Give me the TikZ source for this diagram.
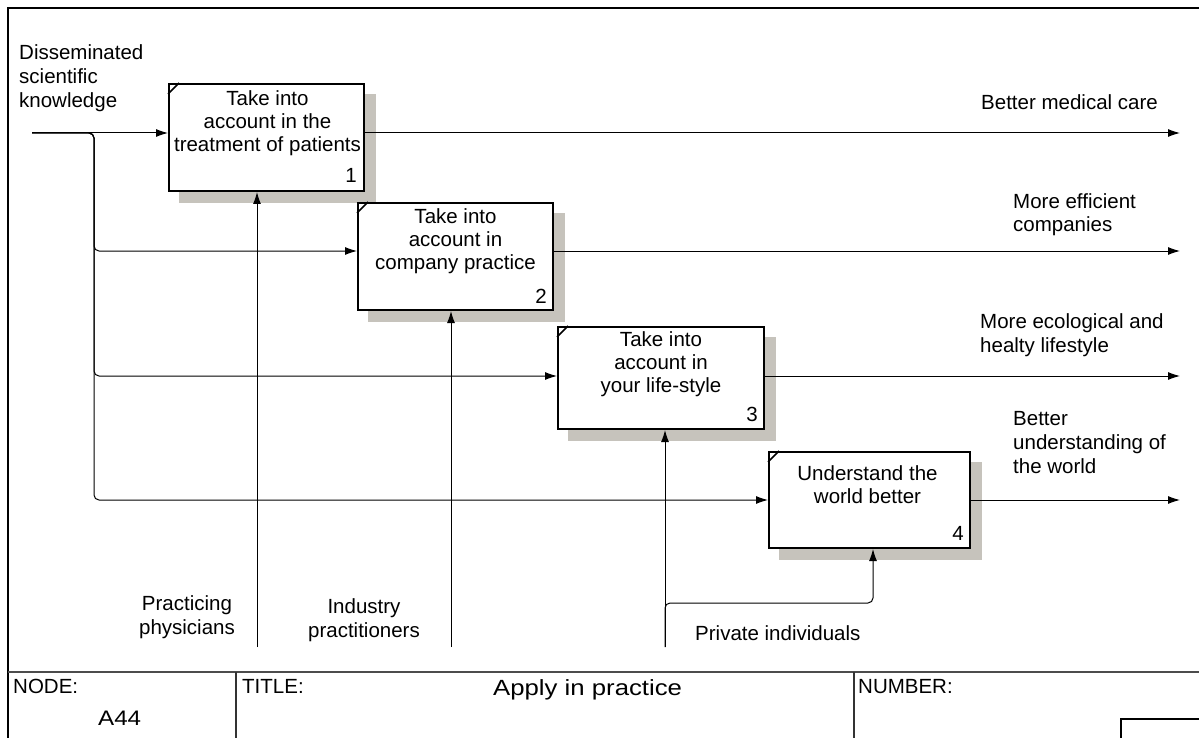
\documentclass[tikz,border=0pt]{standalone}
\usepackage{fontspec}
\setmainfont{Liberation Sans}
\usepackage{graphicx}
\usetikzlibrary{arrows.meta,backgrounds,calc}
\definecolor{shadowc}{RGB}{198,195,188}
\tikzset{
  conn/.style={line width=1pt, draw=black},
  arr/.style={conn, -{Latex[length=12pt,width=8pt]}},
  procbox/.style={draw=black, line width=2pt, fill=white, inner sep=0pt},
  lbl/.style={inner sep=0pt, font=\fontsize{20.5}{24}\selectfont},
  boxtxt/.style={inner sep=0pt, font=\fontsize{20.5}{23}\selectfont, anchor=base},
  numtxt/.style={inner sep=0pt, font=\fontsize{20.5}{24}\selectfont, anchor=base east},
  tick/.style={line width=1.5pt},
  frame/.style={line width=1.5pt, draw=black},
}
\begin{document}
\begin{tikzpicture}[x=1pt,y=-1pt]
\useasboundingbox (0,0) rectangle (1199,738);
\clip (0,0) rectangle (1199,738);

% outer frame
\draw[frame] (1215,8) -- (8,8) -- (8,750);
\draw[frame, draw=black!70] (8,672) -- (1215,672);
\draw[frame, draw=black!80] (236,672) -- (236,750);
\draw[frame, draw=black!80] (854,672) -- (854,750);
\draw[conn, line width=1.2pt] (1121,750) -- (1121,719) -- (1215,719);

% boxes
\node[procbox, minimum width=195pt, minimum height=107pt] (b1) at (266.5,137.5) {};
\node[procbox, minimum width=195pt, minimum height=107pt] (b2) at (455.5,256.5) {};
\node[procbox, minimum width=206pt, minimum height=102pt] (b3) at (661,378) {};
\node[procbox, minimum width=201pt, minimum height=96pt] (b4) at (869.5,500) {};

\begin{scope}[on background layer]
\foreach \b in {b1,b2,b3,b4}
  \fill[shadowc] ($(\b.south west)+(11,11)$) rectangle ($(\b.north east)+(11,11)$);
\end{scope}

\foreach \b in {b1,b2,b3,b4}
  \draw[tick] ($(\b.north west)+(0,11)$) -- ($(\b.north west)+(11,0)$);

\node[boxtxt] (t1) at ($(b1.north)+(1,23)$) {\begin{tabular}[t]{@{}c@{}}Take into\\account in the\\treatment of patients\end{tabular}};
\node[boxtxt] (t2) at ($(b2.north)+(0,22)$) {\begin{tabular}[t]{@{}c@{}}Take into\\account in\\company practice\end{tabular}};
\node[boxtxt] (t3) at ($(b3.north)+(0,20)$) {\begin{tabular}[t]{@{}c@{}}Take into\\account in\\your life-style\end{tabular}};
\node[boxtxt] (t4) at ($(b4.north)+(-2,29)$) {\begin{tabular}[t]{@{}c@{}}Understand the\\world better\end{tabular}};

\node[numtxt] (n1) at ($(b1.south east)+(-8,-9)$) {1};
\node[numtxt] (n2) at ($(b2.south east)+(-7,-8)$) {2};
\node[numtxt] (n3) at ($(b3.south east)+(-7,-9)$) {3};
\node[numtxt] (n4) at ($(b4.south east)+(-7,-9)$) {4};

% inputs
\coordinate (src) at (32,133);
\coordinate (j2) at (94,251);
\coordinate (j3) at (94,376);
\coordinate (j4) at (94,500);
\draw[arr] (src) -- (src -| b1.west);
\draw[arr, rounded corners=5pt] (src) -| (j2) -- (j2 -| b2.west);
\draw[arr, rounded corners=5pt] (src) -| (j3) -- (j3 -| b3.west);
\draw[arr, rounded corners=5pt] (src) -| (j4) -- (j4 -| b4.west);

% outputs
\coordinate (o1) at (1180,133);
\coordinate (o2) at (1180,251);
\coordinate (o3) at (1180,376);
\coordinate (o4) at (1180,500);
\draw[arr] (b1.east |- o1) -- (o1);
\draw[arr] (b2.east |- o2) -- (o2);
\draw[arr] (b3.east |- o3) -- (o3);
\draw[arr] (b4.east |- o4) -- (o4);

% mechanisms
\coordinate (c1) at (257,647);
\coordinate (c2) at (451,647);
\coordinate (c3) at (665,647);
\coordinate (k4) at (873,603);
\draw[arr] (c1) -- (c1 |- b1.south);
\draw[arr] (c2) -- (c2 |- b2.south);
\draw[arr] (c3) -- (c3 |- b3.south);
\draw[arr, rounded corners=5pt] (c3) |- (k4) -- (k4 |- b4.south);

% labels
\node[lbl, anchor=base west] (lin) at (19,60) {\begin{tabular}[t]{@{}l@{}}Disseminated\\scientific\\knowledge\end{tabular}};
\node[lbl, anchor=base west] (lo1) at (981,110) {Better medical care};
\node[lbl, anchor=base west] (lo2) at (1013,208) {\begin{tabular}[t]{@{}l@{}}More efficient\\companies\end{tabular}};
\node[lbl, anchor=base west] (lo3) at (980,328) {\begin{tabular}[t]{@{}l@{}}More ecological and\\healty lifestyle\end{tabular}};
\node[lbl, anchor=base west] (lo4) at (1013,425) {\begin{tabular}[t]{@{}l@{}}Better\\understanding of\\the world\end{tabular}};
\node[lbl, anchor=base] (lm1) at (187,610) {\begin{tabular}[t]{@{}c@{}}Practicing\\physicians\end{tabular}};
\node[lbl, anchor=base] (lm2) at (364,613) {\begin{tabular}[t]{@{}c@{}}Industry\\practitioners\end{tabular}};
\node[lbl, anchor=base west] (lm3) at (695,640) {Private individuals};

% footer
\node[lbl, anchor=base west] (fnode) at (13,693) {NODE:};
\node[lbl, anchor=base west] (fa44) at (98,725) {\scalebox{1.15}[1]{\fontsize{21}{24}\selectfont A44}};
\node[lbl, anchor=base west] (ftitle) at (242,693) {TITLE:};
\node[lbl, anchor=base west] (fapply) at (493,695) {\scalebox{1.17}[1]{\fontsize{22}{26}\selectfont Apply in practice}};
\node[lbl, anchor=base west] (fnum) at (858,693) {NUMBER:};
\end{tikzpicture}
\end{document}
